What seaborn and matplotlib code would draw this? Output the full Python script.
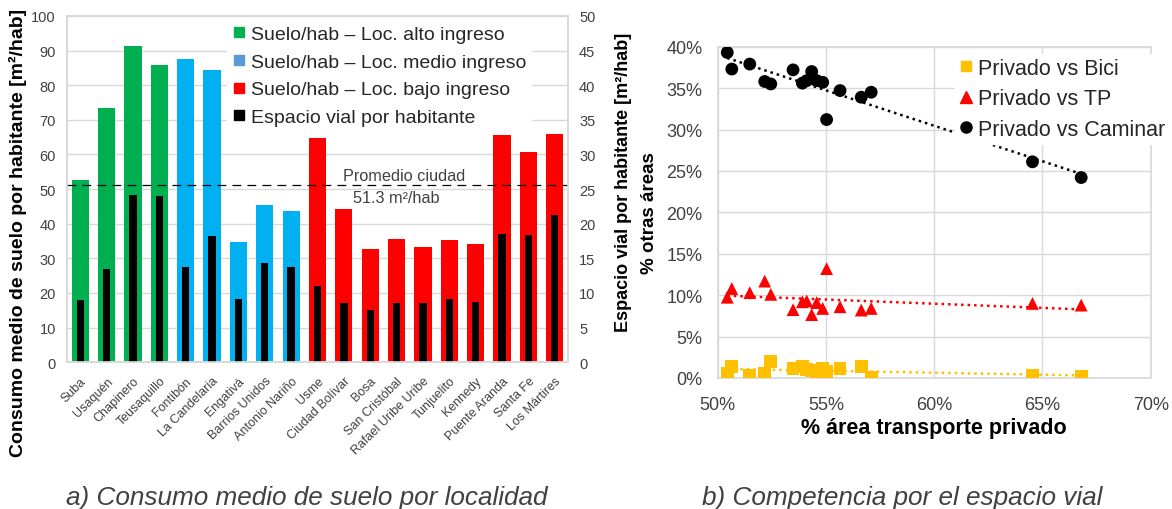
import numpy as np
import pandas as pd
import matplotlib
matplotlib.use("Agg")
import matplotlib.pyplot as plt
from matplotlib.lines import Line2D
import seaborn as sns

# ---- Panel a: land consumption per locality ----
localidades = ["Suba", "Usaquén", "Chapinero", "Teusaquillo", "Fontibón", "La Candelaria",
               "Engativá", "Barrios Unidos", "Antonio Nariño", "Usme", "Ciudad Bolívar",
               "Bosa", "San Cristóbal", "Rafael Uribe Uribe", "Tunjuelito", "Kennedy",
               "Puente Aranda", "Santa Fe", "Los Mártires"]
ingreso = (["alto"] * 4) + (["medio"] * 5) + (["bajo"] * 10)
suelo_hab = [52.6, 73.4, 91.3, 85.9, 87.5, 84.5, 34.7, 45.3, 43.7, 64.7,
             44.1, 32.7, 35.5, 33.3, 35.3, 34.1, 65.5, 60.8, 65.9]
vial_hab = [9.0, 13.5, 24.1, 24.0, 13.8, 18.2, 9.1, 14.3, 13.7, 11.0,
            8.6, 7.5, 8.5, 8.5, 9.1, 8.7, 18.5, 18.4, 21.2]
promedio_ciudad = 51.3

# ---- Panel b: competition for road space ----
privado = [50.44, 50.65, 51.48, 52.17, 52.45, 53.48, 53.91, 54.11, 54.34, 54.57,
           54.85, 55.03, 55.65, 56.63, 57.09, 64.54, 66.79]
caminar = [39.3, 37.3, 37.9, 35.8, 35.5, 37.2, 35.6, 35.9, 37.0, 35.9,
           35.7, 31.2, 34.7, 33.9, 34.5, 26.1, 24.2]
tp = [9.75, 10.8, 10.3, 11.7, 10.1, 8.25, 9.2, 9.3, 7.65, 9.1,
      8.4, 13.2, 8.6, 8.2, 8.4, 9.0, 8.8]
bici = [0.5, 1.4, 0.35, 0.55, 2.0, 1.15, 1.35, 1.0, 0.95, 0.4,
        1.15, 0.75, 1.1, 1.35, 0.1, 0.35, 0.25]

sns.set_theme(style="white")
plt.rcParams["font.family"] = ["Liberation Sans", "DejaVu Sans"]

GREEN, BLUE, RED = "#00B050", "#00B0F0", "#FF0000"
GOLD = "#FFC000"
GRID = "#D9D9D9"
TXT = "#404040"

fig = plt.figure(figsize=(11.72, 5.10), dpi=100)

# ---------------- Panel a ----------------
ax = fig.add_axes([0.0572, 0.288, 0.4274, 0.6787])
df_a = pd.DataFrame({"loc": localidades, "grupo": ingreso,
                     "suelo": suelo_hab, "vial": vial_hab})
sns.barplot(data=df_a, x="loc", y="suelo", hue="grupo", dodge=False,
            palette={"alto": GREEN, "medio": BLUE, "bajo": RED},
            width=0.65, ax=ax, legend=False, saturation=1, linewidth=0)
ax.set_ylim(0, 100)
ax.set_xlim(-0.5, len(localidades) - 0.5)
ax.set_yticks(range(0, 101, 10))
ax.yaxis.grid(True, color=GRID, lw=1)
ax.set_axisbelow(True)
for s in ax.spines.values():
    s.set_color(GRID)
ax.set_xlabel("")
ax.set_ylabel("Consumo medio de suelo por habitante [m²/hab]",
              fontsize=14, fontweight="bold", color="black")
ax.yaxis.set_label_coords(-0.08, 0.376)
ax.tick_params(axis="y", labelsize=10.5, colors=TXT, length=0, pad=8)
ax.set_xticks(range(len(localidades)))
ax.set_xticklabels(localidades, rotation=45, ha="right", rotation_mode="anchor",
                   fontsize=9, color=TXT)
ax.tick_params(axis="x", length=0, pad=9)

ax2 = ax.twinx()
sns.barplot(data=df_a, x="loc", y="vial", color="black", width=0.28,
            ax=ax2, saturation=1, linewidth=0)
ax2.set_ylim(0, 50)
ax2.set_yticks(range(0, 51, 5))
ax2.set_xlim(-0.5, len(localidades) - 0.5)
for s in ax2.spines.values():
    s.set_color(GRID)
ax2.set_ylabel("Espacio vial por habitante [m²/hab]",
               fontsize=13, fontweight="bold", color="black")
ax2.yaxis.set_label_coords(1.094, 0.523)
ax2.tick_params(axis="y", labelsize=10.5, colors=TXT, length=0, pad=8)

# city average
ax.axhline(promedio_ciudad, color="black", lw=0.9, ls=(0, (7, 5)), zorder=5)
ax.text(12.3, promedio_ciudad + 2.6, "Promedio ciudad", ha="center", va="center",
        fontsize=11.7, color=TXT, zorder=6)
ax.text(12.0, promedio_ciudad - 3.8, f"{promedio_ciudad} m²/hab", ha="center",
        va="center", fontsize=11.7, color=TXT, zorder=6)

handles_a = [
    Line2D([], [], marker="s", ls="", color=GREEN, markersize=7),
    Line2D([], [], marker="s", ls="", color="#5B9BD5", markersize=7),
    Line2D([], [], marker="s", ls="", color=RED, markersize=7),
    Line2D([], [], marker="s", ls="", color="black", markersize=7),
]
labels_a = ["Suelo/hab – Loc. alto ingreso", "Suelo/hab – Loc. medio ingreso",
            "Suelo/hab – Loc. bajo ingreso", "Espacio vial por habitante"]
leg = ax2.legend(handles_a, labels_a, loc="upper left",
                 bbox_to_anchor=(0.1937, 0.956), bbox_transform=fig.transFigure,
                 fontsize=14, frameon=True, fancybox=False, framealpha=1,
                 edgecolor="white", handletextpad=0.25, handlelength=0.8,
                 labelspacing=0.52, borderpad=0.2, borderaxespad=0)
leg.set_zorder(10)

fig.text(0.2615, 0.0235, "a) Consumo medio de suelo por localidad", ha="center",
         va="center", fontsize=18.8, style="italic", color=TXT)

# ---------------- Panel b ----------------
bx = fig.add_axes([0.6124, 0.2569, 0.3694, 0.6496])
series = [("Privado vs Bici", bici, GOLD, "s"),
          ("Privado vs TP", tp, RED, "^"),
          ("Privado vs Caminar", caminar, "black", "o")]
rows = []
for name, vals, _, _ in series:
    for xv, yv in zip(privado, vals):
        rows.append({"privado": xv / 100, "otras": yv / 100, "serie": name})
df_b = pd.DataFrame(rows)

for name, vals, col, mk in series:
    sub = df_b[df_b["serie"] == name]
    sns.regplot(data=sub, x="privado", y="otras", scatter=False, ci=None, ax=bx,
                line_kws={"color": col, "lw": 1.8, "ls": (0, (1, 1.6))})

sns.scatterplot(data=df_b, x="privado", y="otras", hue="serie", style="serie",
                palette={n: c for n, _, c, _ in series},
                markers={n: m for n, _, _, m in series},
                s=85, edgecolor="none", ax=bx, legend=False, zorder=4)

bx.set_xlim(0.50, 0.70)
bx.set_ylim(0.0, 0.40)
bx.set_xticks(np.arange(0.50, 0.701, 0.05))
bx.set_yticks(np.arange(0.0, 0.401, 0.05))
bx.xaxis.set_major_formatter(matplotlib.ticker.PercentFormatter(1.0, decimals=0))
bx.yaxis.set_major_formatter(matplotlib.ticker.PercentFormatter(1.0, decimals=0))
bx.grid(True, color=GRID, lw=1)
bx.set_axisbelow(True)
for s in bx.spines.values():
    s.set_color(GRID)
bx.tick_params(axis="x", labelsize=13, colors=TXT, length=0, pad=13)
bx.tick_params(axis="y", labelsize=13, colors=TXT, length=0, pad=11)
bx.set_xlabel("% área transporte privado", fontsize=15.5, fontweight="bold",
              color="black", labelpad=3)
bx.set_ylabel("% otras áreas", fontsize=13.5, fontweight="bold", color="black",
              labelpad=6)

handles_b = [Line2D([], [], marker=m, ls="", color=c, markersize=8 if m != "s" else 7)
             for _, _, c, m in series]
leg_b = bx.legend(handles_b, [n for n, _, _, _ in series], loc="upper left",
                  bbox_to_anchor=(0.815, 0.893), bbox_transform=fig.transFigure,
                  fontsize=15.5, frameon=True, fancybox=False, framealpha=1,
                  edgecolor="white", handletextpad=0.25, handlelength=0.6,
                  labelspacing=0.44, borderpad=0.2, borderaxespad=0)
leg_b.set_zorder(10)

fig.text(0.770, 0.0235, "b) Competencia por el espacio vial", ha="center",
         va="center", fontsize=18.8, style="italic", color=TXT)

fig.savefig("out.png", dpi=100, facecolor="white")
